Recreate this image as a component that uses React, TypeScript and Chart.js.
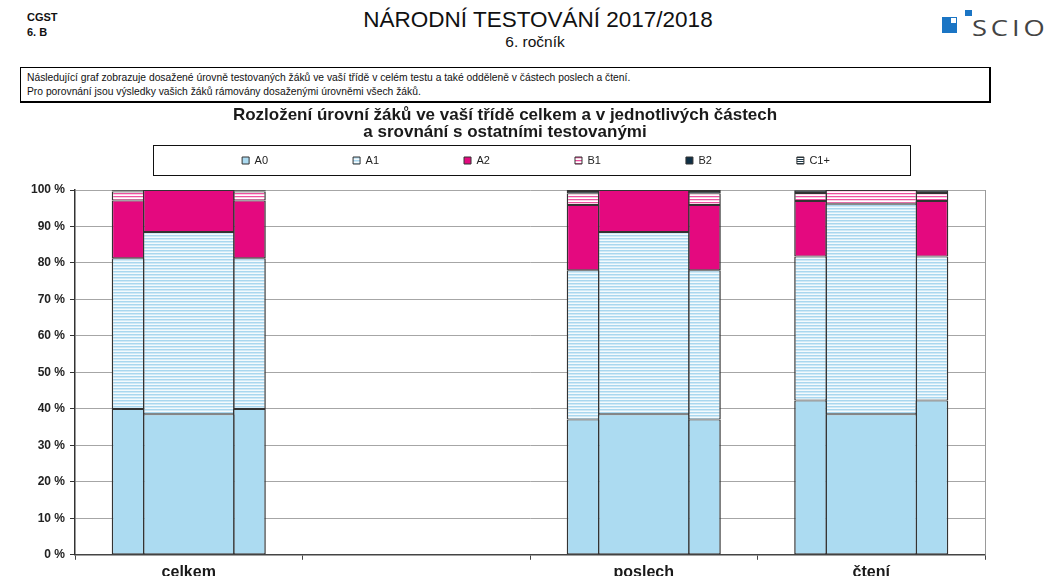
import React, { useEffect, useRef } from 'react';
import { Chart, registerables } from 'chart.js';

Chart.register(...registerables);

const categories = ['celkem', '', 'poslech', 'čtení'];
const levelNames = ['A0', 'A1', 'A2', 'B1', 'B2', 'C1+'];

// všichni testovaní žáci (rámující sloupce vlevo a vpravo), v %
const allA0 = [40.0, null, 37.1, 42.3];
const allA1 = [41.3, null, 40.9, 39.5];
const allA2 = [15.8, null, 17.9, 15.2];
const allB1 = [2.5, null, 3.2, 2.2];
const allB2 = [0.3, null, 0.6, 0.6];
const allC1 = [0.1, null, 0.3, 0.2];

// vaše třída (prostřední sloupec), v %
const classA0 = [38.5, null, 38.5, 38.5];
const classA1 = [50.0, null, 50.0, 57.7];
const classA2 = [11.5, null, 11.5, 0];
const classB1 = [0, null, 0, 3.8];
const classB2 = [0, null, 0, 0];
const classC1 = [0, null, 0, 0];

const titleLines = [
  'Rozložení úrovní žáků ve vaší třídě celkem a v jednotlivých částech',
  'a srovnání s ostatními testovanými',
];

const FONT = '"Liberation Sans", Arial, Helvetica, sans-serif';

function stripes(colors: string[]) {
  const c = document.createElement('canvas');
  c.width = 4;
  c.height = colors.length;
  const x = c.getContext('2d')!;
  colors.forEach((col, i) => {
    x.fillStyle = col;
    x.fillRect(0, i, 4, 1);
  });
  return x.createPattern(c, 'repeat')!;
}

const legendShift = {
  id: 'legendShift',
  afterLayout(chart: any) {
    const lg = chart.legend;
    if (!lg) return;
    lg._frameTop = lg.top;
    const pad = lg.options.labels.padding;
    lg.top = lg.top + 10 - pad;
    lg.left = lg.left + 12;
  },
};

const framePlugin = {
  id: 'framePlugin',
  afterDraw(chart: any) {
    const { ctx, chartArea } = chart;
    const lg = chart.legend;
    ctx.save();
    ctx.strokeStyle = '#9a9a9a';
    ctx.lineWidth = 1;
    ctx.beginPath();
    ctx.moveTo(Math.round(chartArea.right) + 0.5, chartArea.top);
    ctx.lineTo(Math.round(chartArea.right) + 0.5, chartArea.bottom);
    ctx.stroke();
    if (lg && lg._frameTop !== undefined) {
      ctx.strokeStyle = '#111';
      ctx.lineWidth = 1;
      const l = Math.round(chartArea.left + 78) + 0.5;
      const r = Math.round(chartArea.right - 75) + 0.5;
      ctx.strokeRect(l, Math.round(lg._frameTop) + 0.5, r - l, 30);
    }
    ctx.restore();
  },
};

function ChartView() {
  const ref = useRef<HTMLCanvasElement | null>(null);
  useEffect(() => {
    if (!ref.current) return;
    const fills: any[] = [
      '#acdbf1',
      stripes(['#a9d7ef', '#cfe9f6', '#f3fafd']),
      '#e4097f',
      stripes(['#ee4f9f', '#fbd0e5', '#ffffff']),
      '#0f2f45',
      stripes(['#1c3a4c', '#ffffff']),
    ];
    const allSeries = [allA0, allA1, allA2, allB1, allB2, allC1];
    const classSeries = [classA0, classA1, classA2, classB1, classB2, classC1];
    const datasets: any[] = [];
    levelNames.forEach((name, i) => {
      ['L', 'M', 'R'].forEach((stack) => {
        const isClass = stack === 'M';
        datasets.push({
          label: name,
          data: isClass ? classSeries[i] : allSeries[i],
          stack,
          backgroundColor: fills[i],
          borderColor: '#333',
          borderWidth: { top: 1, bottom: 1, left: 1.5, right: 1.5 },
          borderSkipped: false,
          categoryPercentage: isClass ? 1.0 : 0.8,
          barPercentage: isClass ? 1.21 : 0.54,
        });
      });
    });

    const chart = new Chart(ref.current, {
      type: 'bar',
      data: { labels: categories, datasets },
      plugins: [legendShift, framePlugin],
      options: {
        responsive: false,
        animation: false,
        layout: { padding: { left: 25, right: 60, top: 0, bottom: 5 } },
        plugins: {
          tooltip: { enabled: false },
          title: {
            display: true,
            text: titleLines,
            color: '#1a1a1a',
            font: { family: FONT, size: 17, weight: 'bold', lineHeight: 1.05 },
            padding: { top: 3, bottom: 3.3 },
          },
          legend: {
            display: true,
            position: 'top',
            fullSize: false,
            maxHeight: 45,
            labels: {
              boxWidth: 7,
              boxHeight: 7,
              padding: 85,
              color: '#222',
              font: { family: FONT, size: 11 },
              generateLabels: (c: any) =>
                (Chart.defaults.plugins.legend.labels as any)
                  .generateLabels(c)
                  .filter((it: any) => c.data.datasets[it.datasetIndex].stack === 'M')
                  .map((it: any) => ({ ...it, lineWidth: 1, strokeStyle: '#333' })),
            },
          },
        },
        scales: {
          x: {
            stacked: true,
            offset: true,
            grid: {
              display: true,
              offset: true,
              drawOnChartArea: false,
              drawTicks: true,
              tickLength: 5,
              tickColor: '#444',
            },
            border: { display: true, color: '#444', width: 1.5 },
            ticks: {
              color: '#1a1a1a',
              padding: 3,
              font: { family: FONT, size: 16, weight: 'bold' },
            },
          },
          y: {
            stacked: true,
            min: 0,
            max: 100,
            afterFit: (s: any) => {
              s.width = 50;
            },
            grid: {
              color: '#a6a6a6',
              lineWidth: 1,
              drawTicks: true,
              tickLength: 5,
              tickColor: '#333',
            },
            border: { display: true, color: '#333', width: 1.5 },
            ticks: {
              stepSize: 10,
              padding: 5,
              color: '#222',
              font: { family: FONT, size: 12, weight: 'bold' },
              callback: (v: any) => v + ' %',
            },
          },
        },
      } as any,
    });
    return () => chart.destroy();
  }, []);
  return (
    <canvas
      ref={ref}
      width={1045}
      height={487}
      style={{ position: 'absolute', left: 0, top: 103, width: 1045, height: 487 }}
    />
  );
}

export default function App() {
  return (
    <div
      style={{
        position: 'fixed',
        left: 0,
        top: 0,
        width: 1045,
        height: 576,
        overflow: 'hidden',
        background: '#fff',
        fontFamily: FONT,
        color: '#111',
      }}
    >
      <div style={{ position: 'absolute', left: 27, top: 10, fontSize: 11, fontWeight: 'bold', lineHeight: '15px' }}>
        CGST
        <br />
        6. B
      </div>
      <div style={{ position: 'absolute', left: 0, width: 1076, top: 6, textAlign: 'center', fontSize: 22.5, lineHeight: '27px' }}>
        NÁRODNÍ TESTOVÁNÍ 2017/2018
      </div>
      <div style={{ position: 'absolute', left: 0, width: 1070, top: 33, textAlign: 'center', fontSize: 15.5, lineHeight: '18px' }}>
        6. ročník
      </div>
      <div style={{ position: 'absolute', left: 942, top: 17, width: 15, height: 16, background: '#1b75c4' }} />
      <div style={{ position: 'absolute', left: 951, top: 18, width: 5, height: 5, background: '#fff' }} />
      <div style={{ position: 'absolute', left: 965, top: 10, width: 7, height: 6, background: '#1b75c4' }} />
      <div
        style={{
          position: 'absolute',
          left: 972,
          top: 15,
          fontSize: 21,
          lineHeight: '26px',
          letterSpacing: 3,
          color: '#444',
          fontFamily: '"Open Sans", ' + FONT,
          transform: 'scaleX(1.3)',
          transformOrigin: 'left top',
          whiteSpace: 'nowrap',
        }}
      >
        SCIO
      </div>
      <div
        style={{
          position: 'absolute',
          left: 20,
          top: 67,
          width: 971,
          height: 36,
          borderTop: '1px solid #000',
          borderLeft: '1px solid #000',
          borderRight: '2px solid #000',
          borderBottom: '2px solid #000',
          fontSize: 10.3,
          lineHeight: '14px',
          paddingLeft: 6,
          paddingTop: 3,
          boxSizing: 'border-box',
          color: '#111',
          whiteSpace: 'nowrap',
        }}
      >
        Následující graf zobrazuje dosažené úrovně testovaných žáků ve vaší třídě v celém testu a také odděleně v částech poslech a čtení.
        <br />
        Pro porovnání jsou výsledky vašich žáků rámovány dosaženými úrovněmi všech žáků.
      </div>
      <ChartView />
    </div>
  );
}
